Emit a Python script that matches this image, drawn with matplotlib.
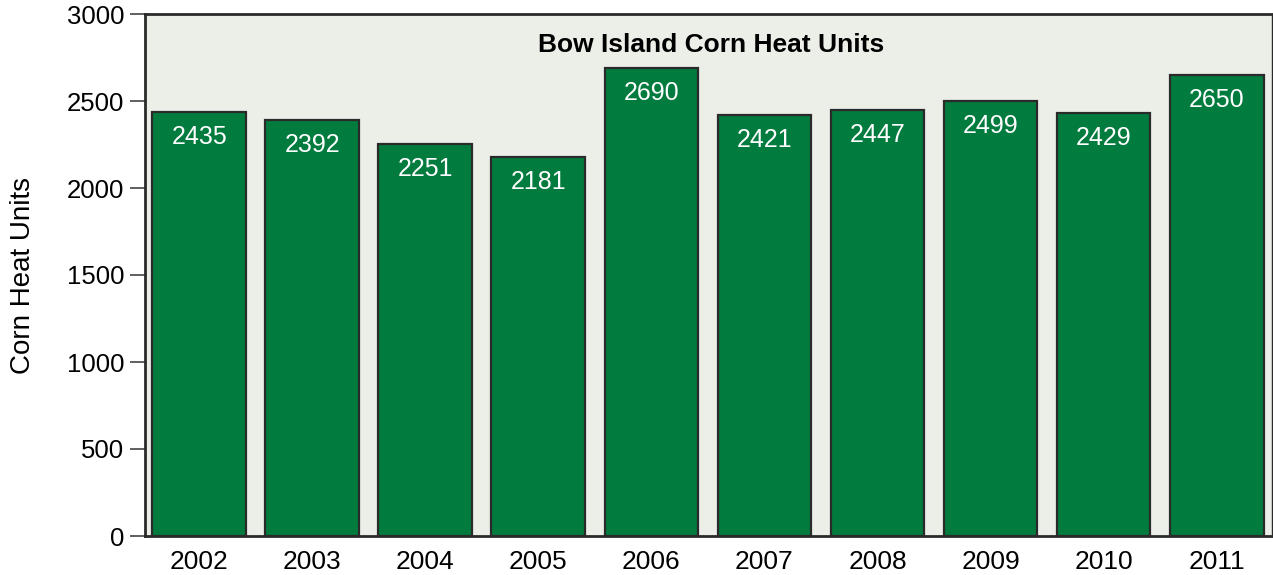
import matplotlib
matplotlib.use("Agg")
import matplotlib.pyplot as plt

years = ["2002", "2003", "2004", "2005", "2006", "2007", "2008", "2009", "2010", "2011"]
chu = [2435, 2392, 2251, 2181, 2690, 2421, 2447, 2499, 2429, 2650]
yticks = [0, 500, 1000, 1500, 2000, 2500, 3000]

plt.rcParams['font.family'] = ['Liberation Sans', 'DejaVu Sans']

fig = plt.figure(figsize=(12.73, 5.75), dpi=100)
ax = fig.add_axes([145/1273, 39/575, 1127/1273, 522/575])
ax.set_facecolor('#ECEEE8')

x = list(range(len(years)))
bars = ax.bar(x, chu, width=0.83, color='#027B3E', edgecolor='#2a2a2a', linewidth=1.6, zorder=2)

for xi, v in zip(x, chu):
    ax.annotate(str(v), (xi, v), xytext=(0, -25), textcoords='offset pixels',
                ha='center', va='center', color='white', fontsize=18)

ax.set_xlim(-0.48, 9.49)
ax.set_ylim(0, 3000)
ax.set_yticks(yticks)
ax.set_yticklabels([str(t) for t in yticks])
ax.set_xticks(x)
ax.set_xticklabels(years)
ax.tick_params(axis='y', length=11, width=1.2, color='#444444', labelsize=18.5, pad=4)
ax.tick_params(axis='x', length=0, labelsize=19, pad=10)

for s in ['top', 'left', 'bottom']:
    ax.spines[s].set_color('#2a2a2a')
    ax.spines[s].set_linewidth(2)
ax.spines['right'].set_color('#2a2a2a')
ax.spines['right'].set_linewidth(1)

ax.set_ylabel('Corn Heat Units', fontsize=20)
ax.yaxis.set_label_coords(-0.0967, 0.5)
ax.text(0.502, 0.94, 'Bow Island Corn Heat Units', transform=ax.transAxes,
        ha='center', va='center', fontsize=19, fontweight='bold')

fig.savefig('out.png', dpi=100)
